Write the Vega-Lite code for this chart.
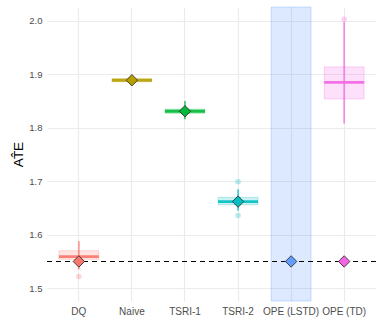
{
  "$schema": "https://vega.github.io/schema/vega-lite/v6.json",
  "width": 329,
  "height": 294,
  "padding": {"left": 11, "top": 6, "right": 6, "bottom": 5},
  "config": {
    "view": {"stroke": null},
    "font": "Liberation Sans",
    "axis": {"domain": false, "ticks": false, "gridColor": "#ebebeb", "labelColor": "#4d4d4d", "labelFontSize": 9.5, "labelFont": "Liberation Sans"}
  },
  "datasets": {
    "stats": [
      {"method": "DQ", "lo": 1.535, "q1": 1.554, "med": 1.559, "q3": 1.570, "hi": 1.588, "mean": 1.55},
      {"method": "Naive", "lo": 1.881, "q1": 1.886, "med": 1.889, "q3": 1.892, "hi": 1.898, "mean": 1.889},
      {"method": "TSRI-1", "lo": 1.816, "q1": 1.827, "med": 1.831, "q3": 1.835, "hi": 1.850, "mean": 1.831},
      {"method": "TSRI-2", "lo": 1.645, "q1": 1.656, "med": 1.662, "q3": 1.670, "hi": 1.685, "mean": 1.662},
      {"method": "OPE (LSTD)", "mean": 1.55},
      {"method": "OPE (TD)", "lo": 1.808, "q1": 1.854, "med": 1.885, "q3": 1.914, "hi": 1.998, "mean": 1.55}
    ],
    "outliers": [
      {"method": "DQ", "value": 1.522},
      {"method": "TSRI-2", "value": 1.699},
      {"method": "TSRI-2", "value": 1.636},
      {"method": "OPE (TD)", "value": 2.003}
    ],
    "truth": [{"ate": 1.55}]
  },
  "encoding": {
    "x": {
      "field": "method", "type": "nominal",
      "sort": ["DQ", "Naive", "TSRI-1", "TSRI-2", "OPE (LSTD)", "OPE (TD)"],
      "scale": {"type": "band", "paddingInner": 0, "paddingOuter": 0.1, "domain": ["DQ", "Naive", "TSRI-1", "TSRI-2", "OPE (LSTD)", "OPE (TD)"]},
      "axis": {"title": null, "labelAngle": 0, "grid": true, "bandPosition": 0.5, "labelPadding": 5, "gridWidth": 1.1, "labelFontSize": 10}
    },
    "color": {
      "field": "method", "type": "nominal", "legend": null,
      "scale": {"domain": ["DQ", "Naive", "TSRI-1", "TSRI-2", "OPE (LSTD)", "OPE (TD)"], "range": ["#F8766D", "#B79F00", "#00BA38", "#00BFC4", "#619CFF", "#F564E3"]}
    }
  },
  "layer": [
    {
      "data": {"name": "stats"},
      "transform": [{"filter": "datum.method === 'OPE (LSTD)'"}],
      "mark": {"type": "bar", "width": {"band": 0.75}, "fillOpacity": 0.22, "strokeOpacity": 0.3, "strokeWidth": 1},
      "encoding": {
        "fill": {"field": "method", "type": "nominal", "legend": null, "scale": {"domain": ["DQ", "Naive", "TSRI-1", "TSRI-2", "OPE (LSTD)", "OPE (TD)"], "range": ["#F8766D", "#B79F00", "#00BA38", "#00BFC4", "#619CFF", "#F564E3"]}},
        "stroke": {"field": "method", "type": "nominal", "legend": null, "scale": {"domain": ["DQ", "Naive", "TSRI-1", "TSRI-2", "OPE (LSTD)", "OPE (TD)"], "range": ["#F8766D", "#B79F00", "#00BA38", "#00BFC4", "#619CFF", "#F564E3"]}},
        "color": null
      }
    },
    {
      "data": {"name": "stats"},
      "transform": [{"filter": "isValid(datum.lo)"}],
      "mark": {"type": "rule", "strokeWidth": 1.8, "opacity": 0.7},
      "encoding": {
        "y": {
          "field": "lo", "type": "quantitative",
          "scale": {"domain": [1.476, 2.026], "nice": false, "zero": false},
          "axis": {
            "title": "AT\u0302E", "titleFontSize": 13.5, "titleColor": "#000000", "titleFontWeight": "normal", "titlePadding": 3,
            "values": [1.5, 1.55, 1.6, 1.65, 1.7, 1.75, 1.8, 1.85, 1.9, 1.95, 2.0],
            "format": ".1f",
            "labelExpr": "abs(datum.value*10 - round(datum.value*10)) < 0.01 ? datum.label : ''",
            "labelPadding": 5,
            "gridWidth": {"condition": {"test": "abs(datum.value*10 - round(datum.value*10)) < 0.01", "value": 1.1}, "value": 0.6}
          }
        },
        "y2": {"field": "hi"}
      }
    },
    {
      "data": {"name": "stats"},
      "transform": [{"filter": "isValid(datum.q1)"}],
      "mark": {"type": "bar", "width": {"band": 0.75}, "fillOpacity": 0.2, "strokeOpacity": 0.25, "strokeWidth": 1},
      "encoding": {
        "y": {"field": "q1", "type": "quantitative"},
        "y2": {"field": "q3"},
        "stroke": {"field": "method", "type": "nominal", "legend": null, "scale": {"domain": ["DQ", "Naive", "TSRI-1", "TSRI-2", "OPE (LSTD)", "OPE (TD)"], "range": ["#F8766D", "#B79F00", "#00BA38", "#00BFC4", "#619CFF", "#F564E3"]}}
      }
    },
    {
      "data": {"name": "stats"},
      "transform": [{"filter": "isValid(datum.med)"}],
      "mark": {"type": "tick", "thickness": 2.8, "size": 40, "opacity": 0.9},
      "encoding": {
        "y": {"field": "med", "type": "quantitative"}
      }
    },
    {
      "data": {"name": "outliers"},
      "mark": {"type": "circle", "size": 30, "opacity": 0.3},
      "encoding": {
        "y": {"field": "value", "type": "quantitative"}
      }
    },
    {
      "data": {"name": "truth"},
      "mark": {"type": "rule", "strokeDash": [5, 4], "color": "#000000", "strokeWidth": 1.1},
      "encoding": {
        "y": {"field": "ate", "type": "quantitative"},
        "x": null,
        "color": null
      }
    },
    {
      "data": {"name": "stats"},
      "mark": {"type": "point", "shape": "diamond", "filled": true, "size": 130, "stroke": "#333333", "strokeWidth": 0.9, "opacity": 1},
      "encoding": {
        "y": {"field": "mean", "type": "quantitative"},
        "fill": {"field": "method", "type": "nominal", "legend": null, "scale": {"domain": ["DQ", "Naive", "TSRI-1", "TSRI-2", "OPE (LSTD)", "OPE (TD)"], "range": ["#F8766D", "#B79F00", "#00BA38", "#00BFC4", "#619CFF", "#F564E3"]}},
        "color": null
      }
    }
  ]
}
